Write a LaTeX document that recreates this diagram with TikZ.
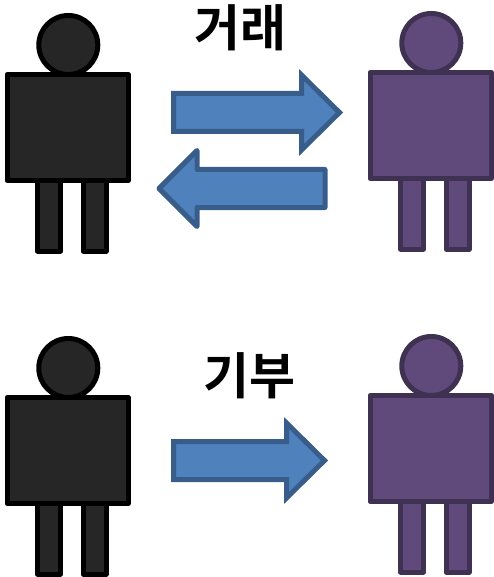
\documentclass[tikz,border=0pt]{standalone}
\usepackage{fontspec}
\newfontfamily\krfont{Noto Sans CJK KR Bold}
\definecolor{darkfill}{HTML}{262626}
\definecolor{purplefill}{HTML}{604A7B}
\definecolor{purpleline}{HTML}{3F3151}
\definecolor{bluefill}{HTML}{4F81BD}
\definecolor{blueline}{HTML}{385D8A}
\tikzset{
  bodypart/.style={line width=5pt,line join=round},
  darkperson/.style={bodypart,draw=black,fill=darkfill},
  purpleperson/.style={bodypart,draw=purpleline,fill=purplefill},
  blockarrow/.style={line width=5pt,draw=blueline,fill=bluefill},
  caption/.style={font=\krfont\fontsize{50}{50}\selectfont,text=black,inner sep=0pt},
  pics/person/.style={code={
    \path[#1] (37.5,180) rectangle (60.5,251);
    \path[#1] (83,180) rectangle (106,251);
    \path[#1] (68.3,45) circle[radius=29.5];
    \path[#1] (7,74.5) rectangle (128.3,180.5);
  }}
}
\begin{document}
\begin{tikzpicture}[x=1pt,y=-1pt]
\useasboundingbox (0,0) rectangle (494,577);
\pic at (0,0) {person=darkperson};
\pic at (363,-2) {person=purpleperson};
\pic at (0,323) {person=darkperson};
\pic at (363,321) {person=purpleperson};
\path[blockarrow,line join=miter] (173.5,93.5) -- (301.5,93.5) -- (301.5,75) -- (339.5,112.5) -- (301.5,150) -- (301.5,131.5) -- (173.5,131.5) -- cycle;
\path[blockarrow,line join=round] (325,169.5) -- (197,169.5) -- (197,150.5) -- (159,188.5) -- (197,226.5) -- (197,207.5) -- (325,207.5) -- cycle;
\path[blockarrow,line join=miter] (173.5,441.5) -- (286.5,441.5) -- (286.5,423) -- (324.5,460.5) -- (286.5,498) -- (286.5,479.5) -- (173.5,479.5) -- cycle;
\node[caption] (trade) at (240.5,28) {거래};
\node[caption] (gift) at (249.5,375.5) {기부};
\end{tikzpicture}
\end{document}
